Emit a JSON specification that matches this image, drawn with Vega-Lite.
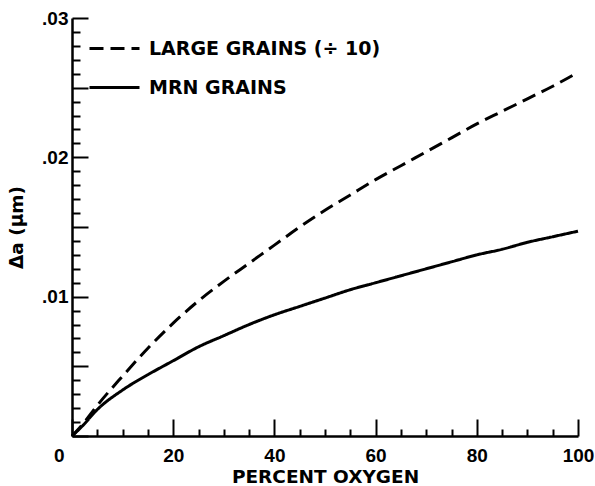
{
  "$schema": "https://vega.github.io/schema/vega-lite/v6.json",
  "autosize": {"type": "none"},
  "padding": {"left": 72, "top": 18, "right": 17, "bottom": 50},
  "width": 506,
  "height": 418,
  "background": "white",
  "config": {
    "view": {"stroke": null},
    "font": "DejaVu Sans",
    "axis": {
      "domainColor": "black",
      "domainWidth": 2.5,
      "tickColor": "black",
      "tickWidth": 2,
      "grid": false,
      "labelFont": "Liberation Sans",
      "labelFontWeight": "bold",
      "labelFontSize": 19,
      "labelColor": "black",
      "titleFont": "DejaVu Sans",
      "titleFontWeight": "bold",
      "titleFontSize": 18.5,
      "titleColor": "black"
    }
  },
  "data": {
    "values": [
      {"pct": 0, "da": 0, "series": "LARGE GRAINS (÷ 10)"},
      {"pct": 2, "da": 0.0008, "series": "LARGE GRAINS (÷ 10)"},
      {"pct": 5, "da": 0.0022, "series": "LARGE GRAINS (÷ 10)"},
      {"pct": 10, "da": 0.0043, "series": "LARGE GRAINS (÷ 10)"},
      {"pct": 15, "da": 0.0063, "series": "LARGE GRAINS (÷ 10)"},
      {"pct": 20, "da": 0.0081, "series": "LARGE GRAINS (÷ 10)"},
      {"pct": 25, "da": 0.0097, "series": "LARGE GRAINS (÷ 10)"},
      {"pct": 30, "da": 0.0111, "series": "LARGE GRAINS (÷ 10)"},
      {"pct": 35, "da": 0.0124, "series": "LARGE GRAINS (÷ 10)"},
      {"pct": 40, "da": 0.0137, "series": "LARGE GRAINS (÷ 10)"},
      {"pct": 45, "da": 0.015, "series": "LARGE GRAINS (÷ 10)"},
      {"pct": 50, "da": 0.0162, "series": "LARGE GRAINS (÷ 10)"},
      {"pct": 55, "da": 0.0173, "series": "LARGE GRAINS (÷ 10)"},
      {"pct": 60, "da": 0.0184, "series": "LARGE GRAINS (÷ 10)"},
      {"pct": 65, "da": 0.0194, "series": "LARGE GRAINS (÷ 10)"},
      {"pct": 70, "da": 0.0204, "series": "LARGE GRAINS (÷ 10)"},
      {"pct": 75, "da": 0.0214, "series": "LARGE GRAINS (÷ 10)"},
      {"pct": 80, "da": 0.0224, "series": "LARGE GRAINS (÷ 10)"},
      {"pct": 85, "da": 0.0233, "series": "LARGE GRAINS (÷ 10)"},
      {"pct": 90, "da": 0.0242, "series": "LARGE GRAINS (÷ 10)"},
      {"pct": 95, "da": 0.0251, "series": "LARGE GRAINS (÷ 10)"},
      {"pct": 100, "da": 0.0261, "series": "LARGE GRAINS (÷ 10)"},
      {"pct": 0, "da": 0, "series": "MRN GRAINS"},
      {"pct": 2, "da": 0.0007, "series": "MRN GRAINS"},
      {"pct": 5, "da": 0.0019, "series": "MRN GRAINS"},
      {"pct": 10, "da": 0.0033, "series": "MRN GRAINS"},
      {"pct": 15, "da": 0.0044, "series": "MRN GRAINS"},
      {"pct": 20, "da": 0.0054, "series": "MRN GRAINS"},
      {"pct": 25, "da": 0.0064, "series": "MRN GRAINS"},
      {"pct": 30, "da": 0.0072, "series": "MRN GRAINS"},
      {"pct": 35, "da": 0.008, "series": "MRN GRAINS"},
      {"pct": 40, "da": 0.0087, "series": "MRN GRAINS"},
      {"pct": 45, "da": 0.0093, "series": "MRN GRAINS"},
      {"pct": 50, "da": 0.0099, "series": "MRN GRAINS"},
      {"pct": 55, "da": 0.0105, "series": "MRN GRAINS"},
      {"pct": 60, "da": 0.011, "series": "MRN GRAINS"},
      {"pct": 65, "da": 0.0115, "series": "MRN GRAINS"},
      {"pct": 70, "da": 0.012, "series": "MRN GRAINS"},
      {"pct": 75, "da": 0.0125, "series": "MRN GRAINS"},
      {"pct": 80, "da": 0.013, "series": "MRN GRAINS"},
      {"pct": 85, "da": 0.0134, "series": "MRN GRAINS"},
      {"pct": 90, "da": 0.0139, "series": "MRN GRAINS"},
      {"pct": 95, "da": 0.0143, "series": "MRN GRAINS"},
      {"pct": 100, "da": 0.0147, "series": "MRN GRAINS"}
    ]
  },
  "mark": {"type": "line", "color": "black", "strokeWidth": 3, "interpolate": "monotone"},
  "encoding": {
    "x": {
      "field": "pct",
      "type": "quantitative",
      "scale": {"domain": [0, 100], "nice": false, "zero": true},
      "axis": {
        "title": "PERCENT OXYGEN",
        "values": [0, 5, 10, 15, 20, 25, 30, 35, 40, 45, 50, 55, 60, 65, 70, 75, 80, 85, 90, 95, 100],
        "labelExpr": "datum.value % 20 === 0 ? format(datum.value, 'd') : ''",
        "labelFlush": false,
        "tickSize": {"condition": {"test": "datum.value % 20 === 0", "value": -17}, "value": -7},
        "labelAlign": {"condition": {"test": "datum.value === 0", "value": "right"}, "value": "center"},
        "labelOffset": {"condition": {"test": "datum.value === 0", "value": -8}, "value": 0},
        "labelPadding": 27,
        "titlePadding": 2
      }
    },
    "y": {
      "field": "da",
      "type": "quantitative",
      "scale": {"domain": [0, 0.03], "nice": false},
      "axis": {
        "title": "Δa (μm)",
        "values": [0, 0.001, 0.002, 0.003, 0.004, 0.005, 0.006, 0.007, 0.008, 0.009, 0.01, 0.011, 0.012, 0.013, 0.014, 0.015, 0.016, 0.017, 0.018, 0.019, 0.02, 0.021, 0.022, 0.023, 0.024, 0.025, 0.026, 0.027, 0.028, 0.029, 0.03],
        "labelExpr": "round(datum.value * 1000) % 10 === 0 && datum.value > 0 ? replace(format(datum.value, '.2f'), '0.', '.') : ''",
        "tickSize": {"condition": {"test": "round(datum.value * 1000) % 5 === 0", "value": -16}, "value": -8},
        "labelPadding": 20,
        "titlePadding": 15
      }
    },
    "strokeDash": {
      "field": "series",
      "type": "nominal",
      "scale": {"domain": ["LARGE GRAINS (÷ 10)", "MRN GRAINS"], "range": [[14, 7], [1, 0]]},
      "legend": {
        "title": null,
        "orient": "none",
        "legendX": 16,
        "legendY": 4,
        "symbolType": "stroke",
        "symbolSize": 2500,
        "symbolStrokeWidth": 3,
        "symbolStrokeColor": "black",
        "labelFont": "DejaVu Sans",
        "labelFontWeight": "bold",
        "labelFontSize": 19,
        "labelColor": "black",
        "labelOffset": 8,
        "rowPadding": 2,
        "labelLimit": 400
      }
    }
  }
}
